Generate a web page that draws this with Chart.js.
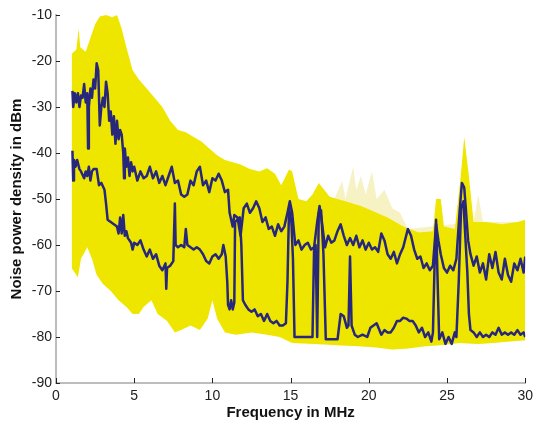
<!DOCTYPE html>
<html>
<head>
<meta charset="utf-8">
<script src="https://cdn.jsdelivr.net/npm/chart.js@4/dist/chart.umd.min.js"></script>
<style>
  html, body { margin: 0; padding: 0; background: #fff; }
  #wrap { width: 538px; height: 426px; }
</style>
</head>
<body>
<div id="wrap"><canvas id="noise-chart" width="538" height="426"></canvas></div>
<script>
// axis ticks
const xTicks = [0, 5, 10, 15, 20, 25, 30];
const yTicks = [-90, -80, -70, -60, -50, -40, -30, -20, -10];

// envelope of all measurements (yellow band), [MHz, dBm]
const bandTop = [
  [1.0, -18.5], [1.3, -17.5], [1.45, -13], [1.55, -17], [1.9, -18], [2.2, -15], [2.5, -12],
  [2.8, -10.3], [3.2, -10], [3.6, -10.5], [3.9, -10], [4.2, -13], [4.5, -17], [4.9, -22],
  [5.3, -24], [5.8, -26], [6.3, -28], [6.8, -30], [7.3, -33], [7.8, -35], [8.3, -35.5],
  [8.8, -36.5], [9.3, -37.5], [9.8, -39], [10.3, -40.5], [10.8, -41.5], [11.3, -42],
  [11.8, -42.5], [12.4, -43.5], [13.0, -44], [13.5, -43.3], [14.0, -44.5], [14.4, -47],
  [14.9, -43.6], [15.1, -44], [15.5, -50], [16.0, -50.5], [16.4, -49], [16.8, -46.5],
  [17.5, -49.5], [18.5, -50.5], [19.5, -51.5], [20.5, -53], [21.2, -54], [22.2, -56],
  [23.2, -57.3], [24.1, -57], [24.3, -50], [24.6, -50], [24.8, -56], [25.5, -56.5], [25.85, -46],
  [26.1, -36.5], [26.4, -45], [26.7, -55], [27.5, -55], [28.5, -55.5], [29.5, -55], [30.0, -54.5]
];
const bandPale = [
  [17.5, -50], [17.8, -50], [18.3, -46], [18.5, -50], [19.0, -43], [19.2, -48], [19.5, -45],
  [19.8, -49], [20.2, -44], [20.5, -50], [21.0, -48], [21.5, -52], [22.0, -53], [22.5, -56.5],
  [26.7, -55], [27.0, -49], [27.3, -55], [30.0, -55]
];
const bandBottom = [
  [1.0, -65], [1.4, -67], [1.6, -63], [2.0, -60.5], [2.3, -63], [2.6, -66.5], [3.0, -68.5],
  [3.5, -70], [4.0, -72], [4.5, -73.5], [4.9, -75], [5.3, -75], [5.6, -73.5], [6.1, -72],
  [6.5, -75], [7.1, -76.5], [7.6, -79], [8.0, -78.5], [8.6, -77.5], [9.2, -78.5], [9.7, -76],
  [10.0, -72], [10.3, -76], [10.8, -79], [11.5, -79.5], [12.5, -79], [13.5, -79.5], [14.3, -80],
  [15.1, -81.3], [16.5, -81.5], [18.0, -81.8], [19.4, -82], [20.5, -82.3], [21.5, -82.7],
  [22.5, -82.5], [23.6, -82], [24.5, -81.8], [25.8, -81.3], [27.0, -81.5], [27.9, -81.3],
  [29.0, -81], [30.0, -80.7]
];

// upper measured trace
const traceHigh = [
  [1.05, -26.5], [1.1, -30], [1.2, -27], [1.3, -29], [1.4, -27], [1.5, -30], [1.6, -27.5],
  [1.7, -28], [1.8, -25], [1.9, -29], [2.0, -27], [2.05, -39], [2.1, -30], [2.2, -26],
  [2.3, -28], [2.4, -24], [2.5, -26], [2.6, -20.5], [2.7, -22], [2.8, -34], [2.9, -30],
  [3.0, -28], [3.1, -30], [3.2, -24.5], [3.3, -27], [3.4, -33], [3.5, -31], [3.6, -36],
  [3.7, -32], [3.8, -38], [3.9, -33], [4.0, -37], [4.1, -35], [4.2, -36], [4.3, -40],
  [4.35, -45.5], [4.4, -39], [4.5, -43], [4.6, -41], [4.7, -45], [4.8, -42], [4.9, -44],
  [5.0, -43], [5.2, -46], [5.4, -44], [5.6, -45.5], [5.8, -45], [6.0, -43], [6.2, -45.5],
  [6.4, -44], [6.6, -46.5], [6.8, -45], [7.0, -47], [7.2, -45], [7.4, -43], [7.6, -46.5],
  [7.8, -46], [8.0, -49], [8.2, -49.5], [8.4, -49], [8.6, -46], [8.8, -47], [9.0, -44],
  [9.2, -43], [9.4, -47], [9.6, -46], [9.8, -48.5], [10.0, -45.5], [10.2, -46], [10.4, -44.5],
  [10.6, -46], [10.8, -48.5], [11.0, -48], [11.1, -53], [11.3, -56], [11.4, -53.5], [11.6, -54],
  [11.8, -58], [12.0, -52], [12.2, -51], [12.4, -53], [12.6, -52], [12.8, -50.5], [13.0, -52],
  [13.2, -55], [13.4, -54], [13.6, -56.5], [13.8, -56], [14.0, -58], [14.2, -55.5], [14.4, -57],
  [14.6, -56], [14.8, -53], [14.95, -50.5], [15.1, -53], [15.3, -60], [15.5, -59], [15.7, -61],
  [15.9, -60], [16.1, -59.5], [16.3, -61], [16.5, -60.5], [16.7, -55], [16.85, -51.5], [17.0, -55],
  [17.2, -60.5], [17.4, -58], [17.6, -59.5], [17.8, -59], [18.0, -57], [18.2, -55.5], [18.4, -58],
  [18.6, -60], [18.8, -58.5], [19.0, -60], [19.2, -58], [19.4, -60.5], [19.6, -59], [19.8, -61],
  [20.0, -59.5], [20.2, -61], [20.4, -60.5], [20.6, -61.5], [20.8, -57.5], [21.0, -59], [21.2, -62],
  [21.4, -63], [21.6, -61.5], [21.8, -64], [22.0, -62], [22.2, -60.5], [22.5, -56.5], [22.7, -58],
  [22.9, -61], [23.1, -63], [23.3, -62.5], [23.5, -65], [23.7, -64], [23.9, -65.5], [24.1, -64.5],
  [24.3, -55.5], [24.45, -59], [24.6, -62], [24.8, -65], [25.0, -66], [25.2, -64.5], [25.4, -65.5],
  [25.6, -63], [25.8, -53], [25.95, -46.5], [26.1, -47.5], [26.2, -52], [26.35, -59], [26.5, -62],
  [26.7, -64.5], [26.9, -62.5], [27.1, -66], [27.3, -64], [27.5, -67.5], [27.7, -62], [27.9, -65],
  [28.1, -61.5], [28.3, -66], [28.5, -67.5], [28.7, -63], [28.9, -66.5], [29.1, -68], [29.3, -64],
  [29.5, -65.5], [29.7, -63], [29.9, -66], [30.0, -62.5]
];

// lower measured trace
const traceLow = [
  [1.05, -39.5], [1.1, -46], [1.15, -41.5], [1.25, -43], [1.35, -41.5], [1.5, -43.5], [1.6, -44],
  [1.8, -45.5], [1.9, -44], [2.0, -45], [2.1, -43], [2.2, -46], [2.3, -44], [2.4, -43.5],
  [2.6, -43.5], [2.75, -47], [2.9, -46.5], [3.1, -48], [3.2, -51], [3.3, -54.5], [3.5, -55],
  [3.7, -55.5], [3.9, -56], [4.0, -57.5], [4.1, -54], [4.2, -57.5], [4.3, -53.5], [4.4, -58],
  [4.5, -57], [4.6, -58.5], [4.8, -59.5], [4.9, -61], [5.0, -59.5], [5.2, -60], [5.4, -59],
  [5.6, -61], [5.8, -62.5], [6.0, -61], [6.2, -63], [6.4, -62], [6.6, -64.5], [6.8, -65.5],
  [7.0, -64], [7.05, -69.5], [7.1, -65], [7.3, -64.5], [7.5, -63.5], [7.6, -51], [7.65, -60],
  [7.8, -60.5], [8.0, -60], [8.2, -60.5], [8.3, -56.5], [8.4, -60], [8.6, -60.5], [8.8, -61],
  [9.0, -60.5], [9.2, -61], [9.4, -62], [9.6, -63.5], [9.8, -64], [10.0, -62.5], [10.2, -62],
  [10.4, -63], [10.6, -62], [10.7, -60], [10.85, -62.5], [10.95, -68], [11.0, -73], [11.1, -74],
  [11.2, -72], [11.3, -74], [11.4, -72.5], [11.45, -55], [11.6, -54.5], [11.75, -54], [11.85, -60],
  [11.95, -72], [12.1, -73], [12.3, -74], [12.5, -74.5], [12.7, -74], [12.9, -75.5], [13.1, -75],
  [13.3, -76.5], [13.5, -75], [13.7, -76.5], [13.9, -77], [14.1, -76.5], [14.3, -77.5], [14.5, -77.5],
  [14.7, -77], [14.8, -68], [14.9, -52], [15.05, -55], [15.15, -63], [15.25, -80], [15.5, -80],
  [15.8, -80], [16.1, -80], [16.4, -80], [16.5, -61], [16.6, -60], [16.7, -80], [16.8, -53],
  [16.95, -52.5], [17.1, -62], [17.25, -80.5], [17.5, -80.5], [17.8, -80.5], [18.0, -80.5],
  [18.2, -75], [18.4, -75.5], [18.6, -78], [18.7, -77.5], [18.8, -62.5], [18.9, -77.5], [19.1, -79.5],
  [19.3, -80], [19.6, -79.5], [19.9, -80], [20.1, -78], [20.3, -77.5], [20.5, -77], [20.8, -79.5],
  [21.0, -78.5], [21.2, -79], [21.4, -79], [21.6, -78], [21.8, -76.5], [22.0, -76.5], [22.2, -75.8],
  [22.4, -76], [22.6, -76.5], [22.8, -76.5], [23.0, -77.5], [23.2, -79], [23.4, -78], [23.6, -80],
  [23.8, -79], [24.0, -81], [24.1, -79], [24.2, -65], [24.3, -54.5], [24.4, -68], [24.5, -80.5],
  [24.7, -79], [24.9, -81.5], [25.1, -80], [25.3, -81.5], [25.5, -79], [25.6, -80], [25.75, -68],
  [25.9, -52], [26.05, -50.5], [26.2, -60], [26.3, -66], [26.4, -75], [26.5, -78.5], [26.7, -79],
  [26.9, -80], [27.1, -79], [27.3, -80], [27.5, -79.5], [27.7, -80], [27.9, -79], [28.1, -79.5],
  [28.3, -78], [28.5, -79.5], [28.7, -79], [28.9, -79.5], [29.1, -79], [29.3, -79.5], [29.5, -78.5],
  [29.7, -79.5], [29.9, -79], [30.0, -80]
];

const YELLOW = '#efe600';
const PALE = '#f6f2c4';
const NAVY = '#27277c';

const toXY = arr => arr.map(([x, y]) => ({ x, y }));

// inward tick marks like the original figure
const innerTicks = {
  id: 'innerTicks',
  afterDraw(chart) {
    const { ctx, chartArea: a, scales } = chart;
    ctx.save();
    ctx.strokeStyle = '#222';
    ctx.lineWidth = 1;
    scales.x.ticks.forEach((t, i) => {
      const px = Math.round(scales.x.getPixelForTick(i)) + 0.5;
      ctx.beginPath(); ctx.moveTo(px, a.bottom); ctx.lineTo(px, a.bottom - 5); ctx.stroke();
    });
    scales.y.ticks.forEach((t, i) => {
      const py = Math.round(scales.y.getPixelForTick(i)) + 0.5;
      ctx.beginPath(); ctx.moveTo(a.left, py); ctx.lineTo(a.left + 4, py); ctx.stroke();
    });
    ctx.restore();
  }
};

const lineDefaults = { pointRadius: 0, tension: 0, borderJoinStyle: 'round' };

new Chart(document.getElementById('noise-chart'), {
  type: 'line',
  data: {
    datasets: [
      { ...lineDefaults, data: toXY(traceHigh), borderColor: NAVY, borderWidth: 2.5, fill: false },
      { ...lineDefaults, data: toXY(traceLow), borderColor: NAVY, borderWidth: 2.5, fill: false },
      { ...lineDefaults, data: toXY(bandTop), borderWidth: 0, borderColor: YELLOW, backgroundColor: YELLOW, fill: 4 },
      { ...lineDefaults, data: toXY(bandPale), borderWidth: 0, borderColor: PALE, backgroundColor: PALE, fill: 4 },
      { ...lineDefaults, data: toXY(bandBottom), borderWidth: 0, borderColor: YELLOW, fill: false }
    ]
  },
  options: {
    responsive: false,
    animation: false,
    layout: { padding: { top: 15, right: 11, left: 0, bottom: 0 } },
    plugins: { legend: { display: false }, tooltip: { enabled: false } },
    scales: {
      x: {
        type: 'linear',
        min: 0, max: 30,
        afterBuildTicks: s => { s.ticks = xTicks.map(v => ({ value: v })); },
        afterFit: s => { s.height = 43; },
        grid: { drawOnChartArea: false, drawTicks: false },
        border: { color: '#bdbdbd', width: 2 },
        ticks: { padding: 5, color: '#222', font: { family: 'Liberation Sans, Arial, sans-serif', size: 14 } },
        title: {
          display: true, text: 'Frequency in MHz', color: '#111',
          padding: { top: 0, bottom: 4 },
          font: { family: 'Liberation Sans, Arial, sans-serif', size: 15, weight: 'bold' }
        }
      },
      y: {
        type: 'linear',
        min: -90, max: -10,
        afterBuildTicks: s => { s.ticks = yTicks.map(v => ({ value: v })); },
        afterFit: s => { s.width = 56; },
        grid: { drawOnChartArea: false, drawTicks: false },
        border: { color: '#bdbdbd', width: 2 },
        ticks: { padding: 4, color: '#222', font: { family: 'Liberation Sans, Arial, sans-serif', size: 14 } },
        title: {
          display: true, text: 'Noise power density in dBm', color: '#111',
          padding: { top: 8, bottom: 0 },
          font: { family: 'Liberation Sans, Arial, sans-serif', size: 15, weight: 'bold' }
        }
      }
    }
  },
  plugins: [innerTicks]
});
</script>
</body>
</html>
